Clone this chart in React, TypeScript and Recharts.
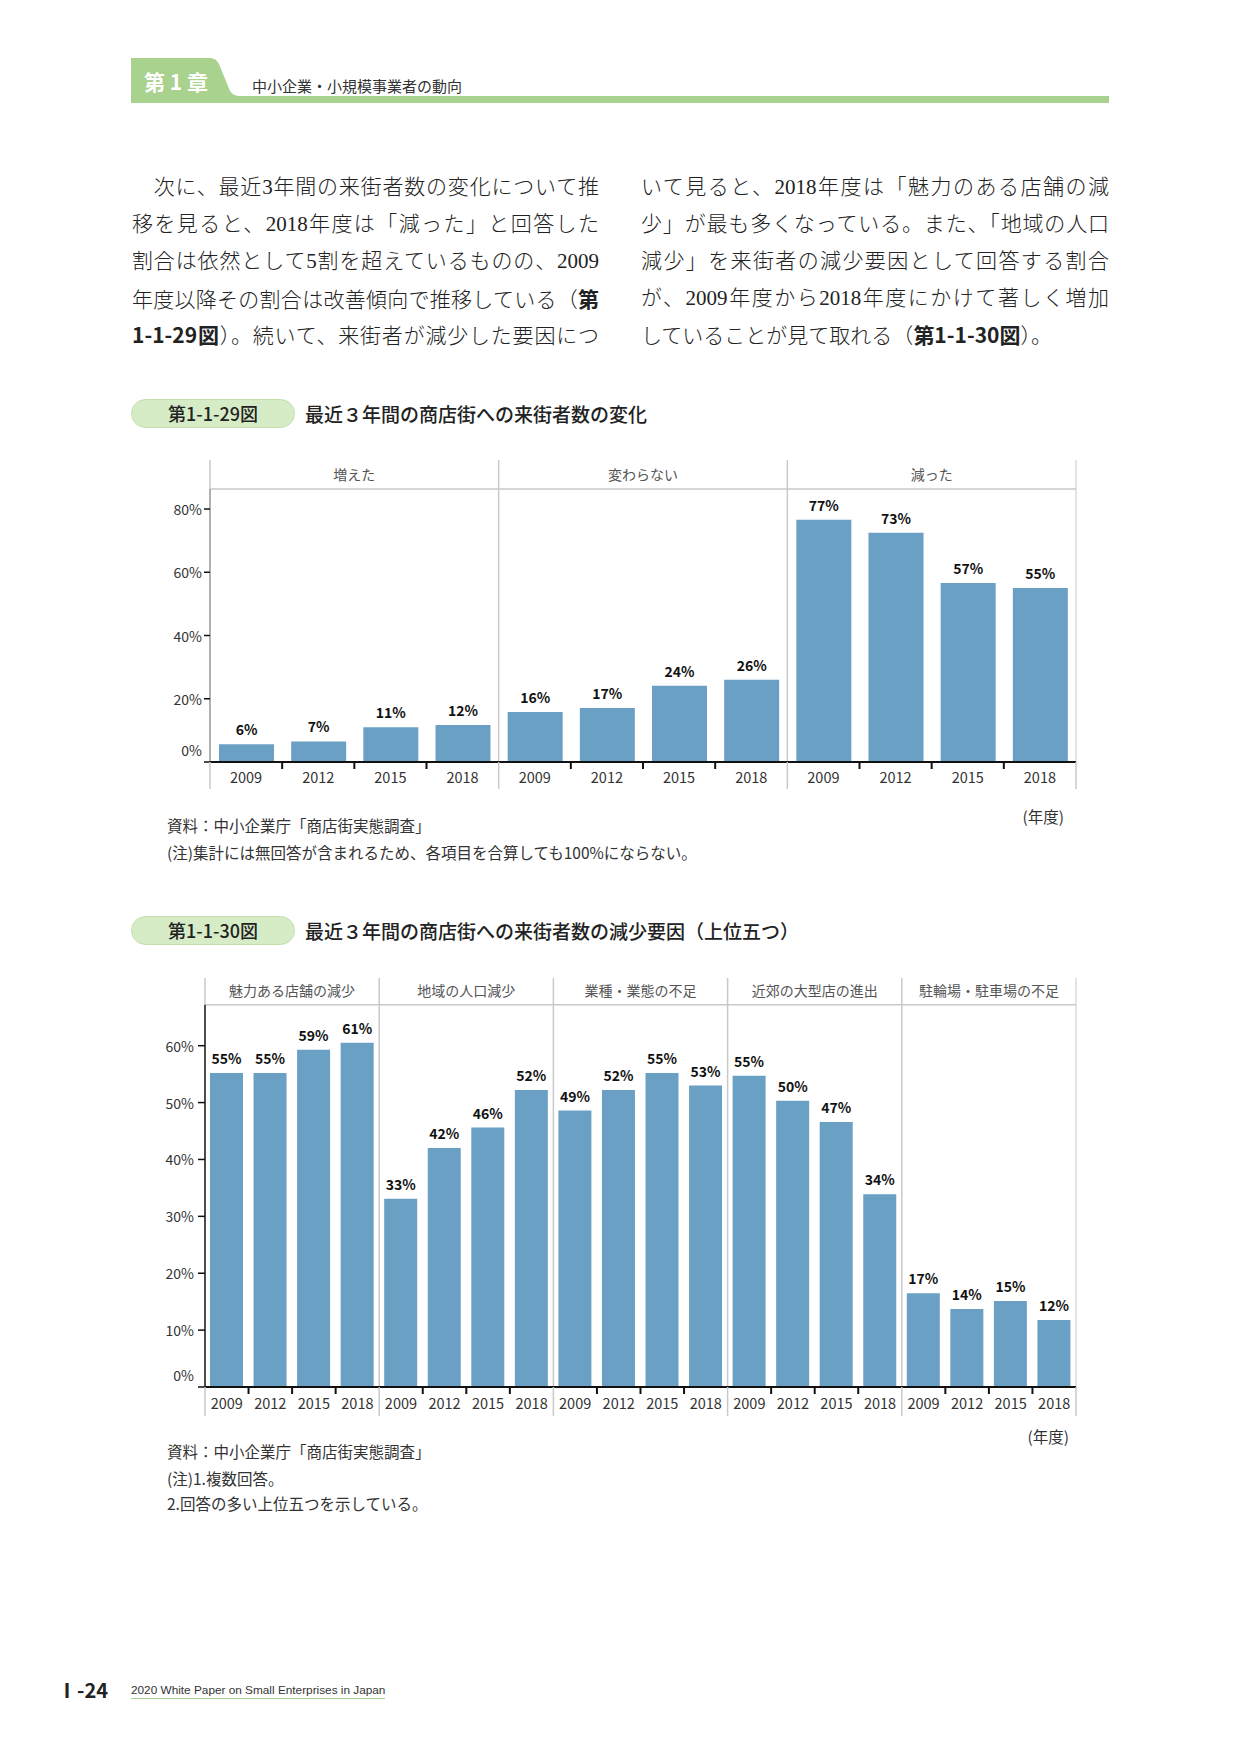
import React from 'react';
import {
  BarChart,
  Bar,
  XAxis,
  YAxis,
  ReferenceLine,
  ReferenceArea,
  LabelList,
} from 'recharts';

const YEARS = ['2009', '2012', '2015', '2018'];

// 第1-1-29図 最近3年間の商店街への来街者数の変化
const CHANGE_GROUPS = ['増えた', '変わらない', '減った'];
const INCREASED = [5.6, 6.5, 11.0, 11.7];
const UNCHANGED = [15.8, 17.1, 24.1, 26.0];
const DECREASED = [76.6, 72.5, 56.6, 55.0];
const CHANGE_TICKS = [0, 20, 40, 60, 80];

// 第1-1-30図 減少要因（上位五つ）
const CAUSE_GROUPS = ['魅力ある店舗の減少', '地域の人口減少', '業種・業態の不足', '近郊の大型店の進出', '駐輪場・駐車場の不足'];
const ATTRACTIVE_SHOPS = [55.2, 55.2, 59.3, 60.5];
const POPULATION = [33.1, 42.0, 45.6, 52.2];
const BUSINESS_TYPES = [48.6, 52.2, 55.2, 53.0];
const LARGE_STORES = [54.7, 50.3, 46.6, 33.9];
const PARKING = [16.5, 13.7, 15.1, 11.8];
const CAUSE_TICKS = [0, 10, 20, 30, 40, 50, 60];

const BAR = '#69a0c4';
const GRID = '#c9c9c9';
const SANS = '"Noto Sans CJK JP", "Noto Sans", sans-serif';

type Row = { pos: number; year: string; value: number };

function buildRows(series: number[][]): Row[] {
  const rows: Row[] = [];
  series.forEach((vals, g) =>
    vals.forEach((v, i) => rows.push({ pos: g * YEARS.length + i, year: YEARS[i], value: v }))
  );
  return rows;
}

interface FacetProps {
  rows: Row[];
  groups: string[];
  yTicks: number[];
  yMax: number;
  headerY: number;
  width: number;
  height: number;
  margin: { top: number; right: number; bottom: number; left: number };
  yAxisWidth: number;
  yTickSize: number;
  yTickMargin: number;
  axisStroke: string;
  below: number;
  yearDy: number;
}

function FacetBarChart(p: FacetProps) {
  const n = p.rows.length;
  const per = YEARS.length;
  const plotW = p.width - p.margin.left - p.margin.right - p.yAxisWidth;
  const band = plotW / n;
  const dividers = p.groups.slice(1).map((_, i) => (i + 1) * per - 0.5);

  const renderYear = (t: any) => {
    const i = t.payload.value as number;
    const left = t.x - band / 2;
    const right = t.x + band / 2;
    return (
      <g>
        {i % per === 0 ? (
          <line x1={left} x2={left} y1={t.y} y2={t.y + p.below} stroke={GRID} strokeWidth={1.5} />
        ) : (
          <line x1={left} x2={left} y1={t.y} y2={t.y + 7} stroke="#111" strokeWidth={2} />
        )}
        {i === n - 1 && (
          <line x1={right} x2={right} y1={t.y} y2={t.y + p.below} stroke={GRID} strokeWidth={1.5} />
        )}
        <text x={t.x} y={t.y + p.yearDy} textAnchor="middle" dominantBaseline="central" fontSize={14.5} fill="#333">
          {p.rows[i] ? p.rows[i].year : ''}
        </text>
      </g>
    );
  };

  const renderPct = (t: any) => (
    <text
      x={t.x}
      y={t.y + (t.payload.value === 0 ? -12 : 0)}
      textAnchor="end"
      dominantBaseline="central"
      fontSize={14}
      fill="#333"
    >
      {t.payload.value}%
    </text>
  );

  return (
    <BarChart width={p.width} height={p.height} data={p.rows} margin={p.margin}>
      <XAxis
        dataKey="pos"
        type="number"
        domain={[-0.5, n - 0.5]}
        allowDataOverflow
        ticks={p.rows.map((r) => r.pos)}
        interval={0}
        tick={renderYear}
        tickLine={false}
        tickSize={0}
        tickMargin={0}
        axisLine={{ stroke: '#111', strokeWidth: 2 }}
        height={30}
      />
      <YAxis
        type="number"
        domain={[0, p.yMax]}
        allowDataOverflow
        ticks={p.yTicks}
        interval={0}
        width={p.yAxisWidth}
        tick={renderPct}
        tickSize={p.yTickSize}
        tickMargin={p.yTickMargin}
        tickLine={{ stroke: '#111', strokeWidth: 1.5 }}
        axisLine={false}
      />
      {p.groups.map((g, gi) => (
        <ReferenceArea
          key={g}
          x1={gi * per - 0.5}
          x2={(gi + 1) * per - 0.5}
          y1={p.headerY}
          y2={p.yMax}
          fill="none"
          stroke="none"
          label={{ value: g, position: 'center', fill: '#555', fontSize: 14 }}
        />
      ))}
      <ReferenceLine y={p.headerY} stroke={GRID} strokeWidth={1.5} />
      <ReferenceLine
        segment={[{ x: -0.5, y: 0 }, { x: -0.5, y: p.headerY }]}
        stroke={p.axisStroke}
        strokeWidth={1.5}
      />
      <ReferenceLine
        segment={[{ x: -0.5, y: p.headerY }, { x: -0.5, y: p.yMax }]}
        stroke={GRID}
        strokeWidth={1.5}
      />
      {dividers.map((d) => (
        <ReferenceLine key={d} x={d} stroke={GRID} strokeWidth={1.5} />
      ))}
      <ReferenceLine x={n - 0.5} stroke={GRID} strokeWidth={1} />
      <Bar dataKey="value" fill={BAR} barSize={Math.round(band * 0.76)} isAnimationActive={false}>
        <LabelList
          dataKey="value"
          position="top"
          offset={9}
          formatter={(v: any) => `${Math.round(Number(v))}%`}
          fill="#111"
          fontSize={14}
          fontWeight={700}
        />
      </Bar>
    </BarChart>
  );
}

function Txt({
  x,
  cy,
  size,
  children,
  right,
  weight,
  color,
  family,
}: {
  x: number;
  cy: number;
  size: number;
  children: React.ReactNode;
  right?: boolean;
  weight?: number;
  color?: string;
  family?: string;
}) {
  const lh = Math.round(size * 1.4);
  return (
    <div
      style={{
        position: 'absolute',
        top: cy - lh / 2,
        left: right ? undefined : x,
        right: right ? 1241 - x : undefined,
        fontSize: size,
        lineHeight: `${lh}px`,
        fontWeight: weight ?? 400,
        color: color ?? '#333',
        fontFamily: family ?? SANS,
        whiteSpace: 'nowrap',
      }}
    >
      {children}
    </div>
  );
}

const B = ({ children }: { children: React.ReactNode }) => (
  <span style={{ fontFamily: SANS, fontWeight: 700 }}>{children}</span>
);

const LEFT_LINES: React.ReactNode[] = [
  <>　次に、最近3年間の来街者数の変化について推</>,
  <>移を見ると、2018年度は「減った」と回答した</>,
  <>割合は依然として5割を超えているものの、2009</>,
  <>年度以降その割合は改善傾向で推移している（<B>第</B></>,
  <><B>1-1-29図</B>）。続いて、来街者が減少した要因につ</>,
];
const RIGHT_LINES: React.ReactNode[] = [
  <>いて見ると、2018年度は「魅力のある店舗の減</>,
  <>少」が最も多くなっている。また、「地域の人口</>,
  <>減少」を来街者の減少要因として回答する割合</>,
  <>が、2009年度から2018年度にかけて著しく増加</>,
  <>していることが見て取れる（<B>第1-1-30図</B>）。</>,
];
const LINE_Y = [187, 224, 261, 298, 334];

function BodyLine({ x, w, cy, last, children }: { x: number; w: number; cy: number; last?: boolean; children: React.ReactNode }) {
  return (
    <div
      style={{
        position: 'absolute',
        left: x,
        width: w,
        top: cy - 15,
        height: 30,
        lineHeight: '30px',
        fontSize: 21,
        fontFamily: '"Liberation Serif", "Noto Sans CJK JP", serif',
        fontWeight: 300,
        color: '#222',
        textAlign: 'justify',
        textAlignLast: last ? 'left' : 'justify',
        overflow: 'visible',
      }}
    >
      {children}
    </div>
  );
}

function FigTitle({ top, num, title }: { top: number; num: string; title: string }) {
  return (
    <>
      <div
        style={{
          position: 'absolute',
          left: 131,
          top,
          width: 164,
          height: 29,
          borderRadius: 15,
          background: '#d6ecc6',
          border: '1px solid #c2e0ad',
          boxSizing: 'border-box',
          textAlign: 'center',
          lineHeight: '27px',
          fontSize: 18,
          fontFamily: SANS,
          fontWeight: 500,
          color: '#222',
        }}
      >
        {num}
      </div>
      <Txt x={305} cy={top + 14} size={19} weight={500} color="#222">
        {title}
      </Txt>
    </>
  );
}

export default function App() {
  const changeRows = buildRows([INCREASED, UNCHANGED, DECREASED]);
  const causeRows = buildRows([ATTRACTIVE_SHOPS, POPULATION, BUSINESS_TYPES, LARGE_STORES, PARKING]);

  return (
    <div
      style={{
        position: 'absolute',
        left: 0,
        top: 0,
        width: 1241,
        height: 1754,
        background: '#fff',
        fontFamily: SANS,
        overflow: 'hidden',
      }}
    >
      <svg width={1241} height={110} style={{ position: 'absolute', left: 0, top: 0 }}>
        <path d="M131 58 L210 58 Q216 58 219 64 L230 91 Q233 96 240 96 L1109 96 L1109 103 L131 103 Z" fill="#a9d28f" />
        <text x={144} y={81} fontSize={21} fontWeight={700} fill="#fff" dominantBaseline="central" fontFamily={SANS}>
          第 1 章
        </text>
      </svg>
      <Txt x={252} cy={85} size={15} color="#333">
        中小企業・小規模事業者の動向
      </Txt>

      {LEFT_LINES.map((l, i) => (
        <BodyLine key={`l${i}`} x={132} w={467} cy={LINE_Y[i]}>
          {l}
        </BodyLine>
      ))}
      {RIGHT_LINES.map((l, i) => (
        <BodyLine key={`r${i}`} x={641} w={468} cy={LINE_Y[i]} last={i === RIGHT_LINES.length - 1}>
          {l}
        </BodyLine>
      ))}

      <FigTitle top={399} num="第1-1-29図" title="最近３年間の商店街への来街者数の変化" />
      <div style={{ position: 'absolute', left: 130, top: 450 }}>
        <FacetBarChart
          rows={changeRows}
          groups={CHANGE_GROUPS}
          yTicks={CHANGE_TICKS}
          yMax={95.5}
          headerY={86.3}
          width={960}
          height={350}
          margin={{ top: 10, right: 14, bottom: 8, left: 0 }}
          yAxisWidth={80}
          yTickSize={6}
          yTickMargin={2}
          axisStroke="#999"
          below={27}
          yearDy={14}
        />
      </div>
      <Txt x={1064} cy={816} size={15.5} right>
        (年度)
      </Txt>
      <Txt x={167} cy={825} size={15.5}>
        資料：中小企業庁「商店街実態調査」
      </Txt>
      <Txt x={167} cy={852} size={15.5}>
        (注)集計には無回答が含まれるため、各項目を合算しても100%にならない。
      </Txt>

      <FigTitle top={916} num="第1-1-30図" title="最近３年間の商店街への来街者数の減少要因（上位五つ）" />
      <div style={{ position: 'absolute', left: 120, top: 968 }}>
        <FacetBarChart
          rows={causeRows}
          groups={CAUSE_GROUPS}
          yTicks={CAUSE_TICKS}
          yMax={71.9}
          headerY={67.2}
          width={970}
          height={460}
          margin={{ top: 10, right: 14, bottom: 11, left: 0 }}
          yAxisWidth={85}
          yTickSize={7}
          yTickMargin={4}
          axisStroke="#111"
          below={29}
          yearDy={15.5}
        />
      </div>
      <Txt x={1069} cy={1436} size={15.5} right>
        (年度)
      </Txt>
      <Txt x={167} cy={1451} size={15.5}>
        資料：中小企業庁「商店街実態調査」
      </Txt>
      <Txt x={167} cy={1478} size={15.5}>
        (注)1.複数回答。
      </Txt>
      <Txt x={167} cy={1503} size={15.5}>
        2.回答の多い上位五つを示している。
      </Txt>

      <Txt x={57} cy={1690} size={20} weight={700} color="#222">
        Ⅰ-24
      </Txt>
      <div
        style={{
          position: 'absolute',
          left: 131,
          top: 1683,
          fontSize: 11.8,
          lineHeight: '15px',
          fontFamily: '"Liberation Sans", Arial, sans-serif',
          color: '#333',
          borderBottom: '1px solid #a9d28f',
          whiteSpace: 'nowrap',
        }}
      >
        2020 White Paper on Small Enterprises in Japan
      </div>
    </div>
  );
}
